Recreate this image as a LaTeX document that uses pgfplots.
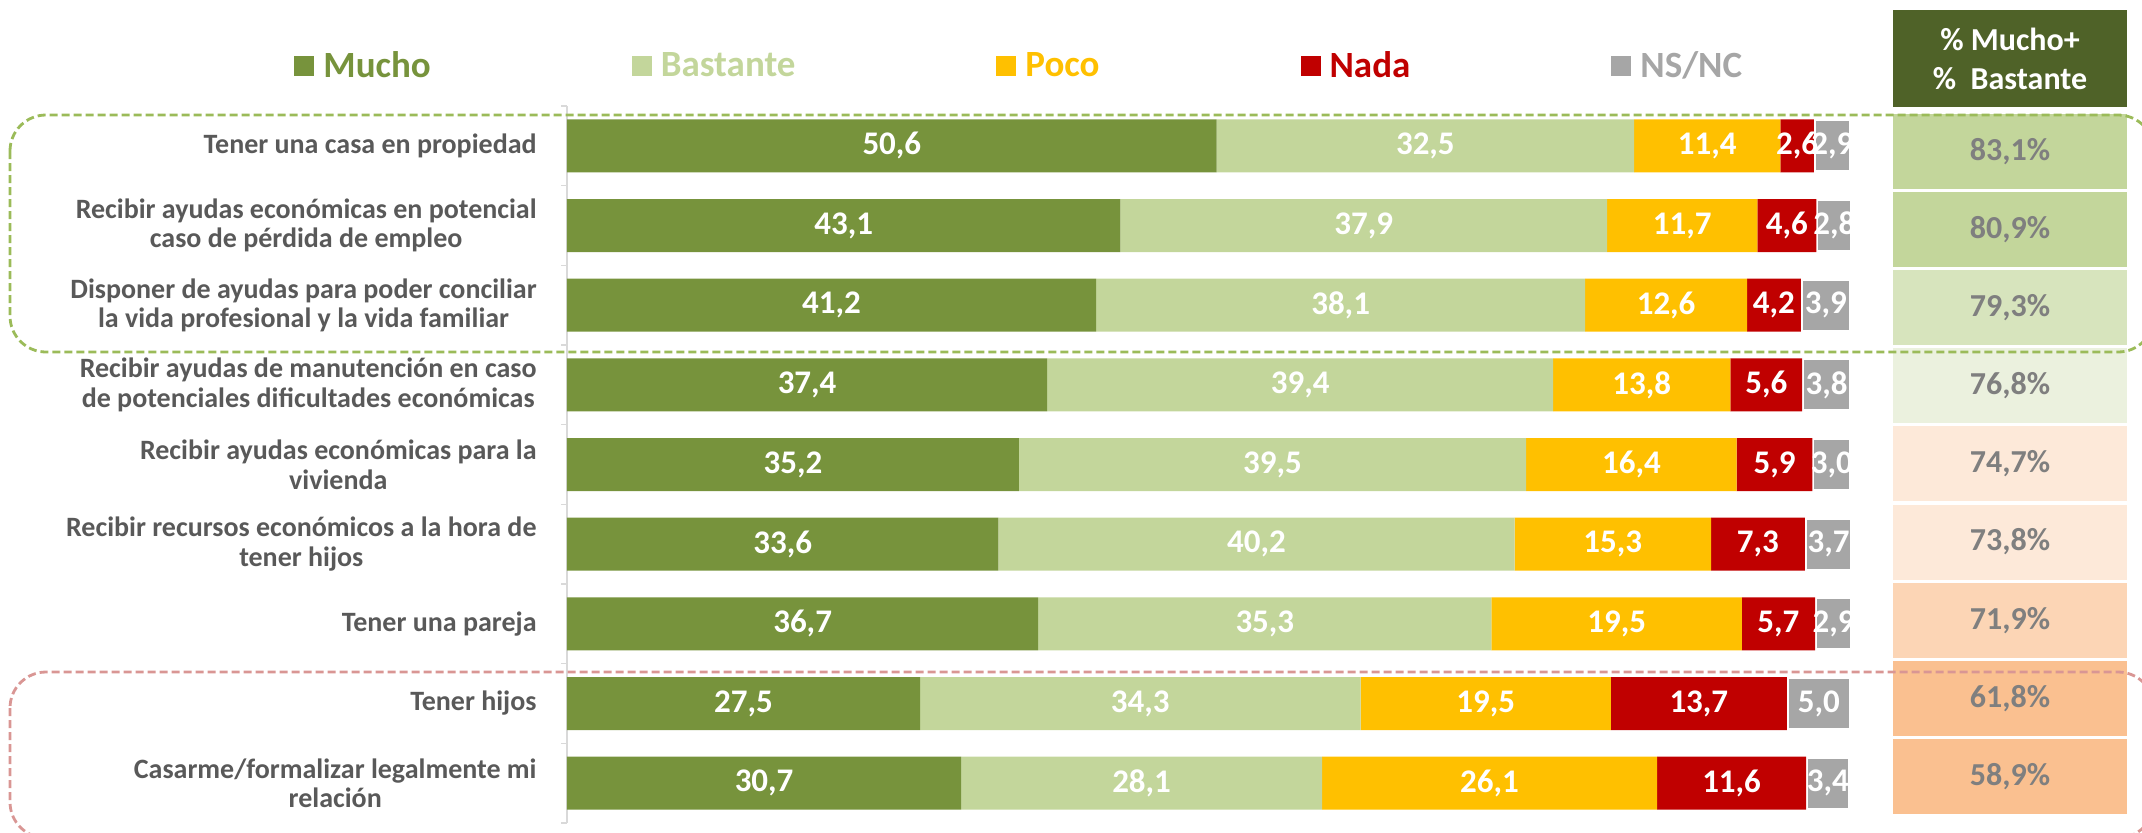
\documentclass[border=0pt]{standalone}
\usepackage{fontspec}
\setmainfont{Carlito}
\usepackage{pgfplots}
\usepackage{pgfplotstable}
\pgfplotsset{compat=1.18}
\definecolor{mucho}{HTML}{77933C}
\definecolor{bastante}{HTML}{C3D69B}
\definecolor{poco}{HTML}{FFC000}
\definecolor{nada}{HTML}{C00000}
\definecolor{nsnc}{HTML}{A6A6A6}
\definecolor{header}{HTML}{4F6228}
\definecolor{labgray}{HTML}{595959}
\definecolor{pctgray}{HTML}{7F7F7F}
\definecolor{axgray}{HTML}{D9D9D9}
\definecolor{dgreen}{HTML}{9BBB59}
\definecolor{dred}{HTML}{D99694}
\definecolor{boxa}{HTML}{C3D69B}
\definecolor{boxb}{HTML}{D7E4BD}
\definecolor{boxc}{HTML}{EBF1DE}
\definecolor{boxd}{HTML}{FDE9D9}
\definecolor{boxe}{HTML}{FCD5B5}
\definecolor{boxf}{HTML}{FAC090}

\pgfplotstableread{
idx mucho bastante poco nada nsnc
0 50.6 32.5 11.4 2.6 2.9
1 43.1 37.9 11.7 4.6 2.8
2 41.2 38.1 12.6 4.2 3.9
3 37.4 39.4 13.8 5.6 3.8
4 35.2 39.5 16.4 5.9 3.0
5 33.6 40.2 15.3 7.3 3.7
6 36.7 35.3 19.5 5.7 2.9
7 27.5 34.3 19.5 13.7 5.0
8 30.7 28.1 26.1 11.6 3.4
}\datatable

\begin{document}
\begin{tikzpicture}
\begin{axis}[
  at={(283.5pt,-53pt)}, anchor=north west,
  scale only axis, width=642pt, height=358.5pt,
  xbar stacked, bar width=26.5pt,
  xmin=0, xmax=100, ymin=-0.5, ymax=8.5, y dir=reverse,
  axis x line=none, axis y line*=left,
  axis line style={-, draw=axgray, line width=0.75pt},
  xtick=\empty,
  ytick={0,...,8},
  yticklabels={
    {Tener una casa en propiedad},
    {Recibir ayudas económicas en potencial\\caso de pérdida de empleo},
    {Disponer de ayudas para poder conciliar\\la vida profesional y la vida familiar},
    {Recibir ayudas de manutención en caso\\de potenciales dificultades económicas},
    {Recibir ayudas económicas para la\\vivienda},
    {Recibir recursos económicos a la hora de\\tener hijos},
    {Tener una pareja},
    {Tener hijos},
    {Casarme/formalizar legalmente mi\\relación}},
  major tick length=0pt,
  minor ytick={-0.5,0.5,1.5,2.5,3.5,4.5,5.5,6.5,7.5,8.5},
  minor tick length=3pt, tick align=outside,
  minor tick style={draw=axgray, line width=0.75pt},
  yticklabel style={font=\fontsize{14}{14.8}\selectfont\bfseries, text=labgray, align=center, inner sep=0pt, xshift=-15pt},
  point meta=explicit symbolic,
  nodes near coords={\pgfmathprintnumber[fixed,fixed zerofill,precision=1,use comma,assume math mode=true]{\pgfplotspointmeta}},
  every node near coord/.append style={font=\fontsize{16.5}{16.5}\selectfont\bfseries, text=white, anchor=center, inner sep=0pt},
  legend columns=5,
  legend image code/.code={\fill[#1,draw=none] (0pt,-5pt) rectangle (10pt,5pt);},
  legend style={draw=none, fill=none, inner sep=0pt, at={(-0.2126,1.0558)}, anchor=west,
    font=\fontsize{18.5}{20}\selectfont\bfseries,
    nodes={inner sep=0pt},
    /tikz/every odd column/.append style={column sep=4.5pt},
    /tikz/every even column/.append style={column sep=100.5pt}},
  legend entries={\textcolor{mucho}{Mucho},\textcolor{bastante}{Bastante},\textcolor{poco}{Poco},\textcolor{nada}{Nada},\textcolor{nsnc}{NS/NC}},
  clip=false,
]
\addplot[fill=mucho, draw=none] table[x=mucho, y=idx, meta=mucho]{\datatable};
\addplot[fill=bastante, draw=none] table[x=bastante, y=idx, meta=bastante]{\datatable};
\addplot[fill=poco, draw=none] table[x=poco, y=idx, meta=poco]{\datatable};
\addplot[fill=nada, draw=none] table[x=nada, y=idx, meta=nada]{\datatable};
\addplot[fill=nsnc, draw=white, line width=2pt] table[x=nsnc, y=idx, meta=nsnc]{\datatable};
\end{axis}

\begin{axis}[
  at={(946.5pt,-56.25pt)}, anchor=north west,
  scale only axis, width=117pt, height=351.45pt,
  xmin=0, xmax=1, ymin=-0.5, ymax=8.5, y dir=reverse,
  hide axis, clip=false,
  point meta=explicit symbolic,
  nodes near coords={\pgfmathprintnumber[fixed,fixed zerofill,precision=1,use comma,assume math mode=true]{\pgfplotspointmeta}\%},
  every node near coord/.append style={font=\fontsize{16}{16}\selectfont\bfseries, text=pctgray, anchor=center, xshift=-58.5pt},
  pbox/.style={xbar, bar shift=0pt, bar width=37.5pt, draw=none, fill=#1},
]
\addplot[pbox=boxa] coordinates {(1,0) [83.1]};
\addplot[pbox=boxa] coordinates {(1,1) [80.9]};
\addplot[pbox=boxb] coordinates {(1,2) [79.3]};
\addplot[pbox=boxc] coordinates {(1,3) [76.8]};
\addplot[pbox=boxd] coordinates {(1,4) [74.7]};
\addplot[pbox=boxd] coordinates {(1,5) [73.8]};
\addplot[pbox=boxe] coordinates {(1,6) [71.9]};
\addplot[pbox=boxf] coordinates {(1,7) [61.8]};
\addplot[pbox=boxf] coordinates {(1,8) [58.9]};
\end{axis}

\node[fill=header, minimum width=117pt, minimum height=48.5pt, inner sep=0pt, text=white, align=center, font=\fontsize{16}{19.5}\selectfont\bfseries] at (1005pt,-29.25pt) {\%~Mucho+\\\%~~Bastante};

\begin{scope}
\clip (0pt,0pt) rectangle (1071pt,-416pt);
\draw[dgreen, line width=1.4pt, dash pattern=on 4pt off 2pt, rounded corners=18pt] (5pt,-57.5pt) rectangle (1077pt,-176pt);
\draw[dred, line width=1.4pt, dash pattern=on 4pt off 2pt, rounded corners=18pt] (5pt,-336pt) rectangle (1077pt,-419pt);
\end{scope}
\pgfresetboundingbox
\useasboundingbox (0pt,0pt) rectangle (1071pt,-416pt);
\end{tikzpicture}
\end{document}
